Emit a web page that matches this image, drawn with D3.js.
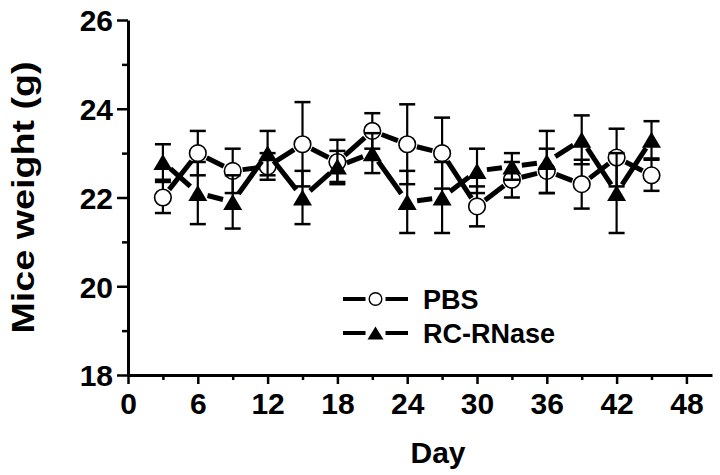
<!DOCTYPE html>
<html>
<head>
<meta charset="utf-8">
<script src="https://cdn.jsdelivr.net/npm/d3@7"></script>
<style>
  html, body { margin: 0; padding: 0; background: #fff; }
  svg { display: block; }
  text { font-family: "Liberation Sans", Arial, Helvetica, sans-serif; font-weight: bold; fill: #000; }
</style>
</head>
<body>
<svg id="chart" width="720" height="475"></svg>
<script>
// ---- data ----
const days = [3, 6, 9, 12, 15, 18, 21, 24, 27, 30, 33, 36, 39, 42, 45];
const pbs = [22.0, 23.0, 22.6, 22.7, 23.2, 22.8, 23.5, 23.2, 23.0, 21.8, 22.4, 22.6, 22.3, 22.9, 22.5];
const pbsErr = [0.35, 0.5, 0.5, 0.3, 0.95, 0.5, 0.4, 0.9, 0.8, 0.45, 0.4, 0.5, 0.55, 0.65, 0.35];
const rc = [22.8, 22.1, 21.9, 23.0, 22.0, 22.7, 23.0, 21.9, 22.0, 22.6, 22.7, 22.8, 23.3, 22.1, 23.3];
const rcErr = [0.4, 0.7, 0.6, 0.5, 0.6, 0.35, 0.45, 0.7, 0.8, 0.5, 0.3, 0.7, 0.55, 0.9, 0.42];
const xTicks = [0, 6, 12, 18, 24, 30, 36, 42, 48];
const xMinor = [3, 9, 15, 21, 27, 33, 39, 45];
const yTicks = [18, 20, 22, 24, 26];
const yMinor = [19, 21, 23, 25];
const seriesNames = ["PBS", "RC-RNase"];
const xTitle = "Day";
const yTitle = "Mice weight (g)";

// ---- layout ----
const svg = d3.select("#chart");
const x = d3.scaleLinear().domain([0, 50.2]).range([128, 712]);
const y = d3.scaleLinear().domain([18, 26]).range([375, 20]);

const FS = 30;

// axes
const gx = svg.append("g").attr("transform", `translate(0,${y(18)})`)
  .call(d3.axisBottom(x).tickValues(xTicks).tickSize(9).tickSizeOuter(0).tickPadding(9));
const gxm = svg.append("g").attr("transform", `translate(0,${y(18)})`)
  .call(d3.axisBottom(x).tickValues(xMinor).tickSize(5).tickFormat(""));
gxm.select(".domain").remove();

const gy = svg.append("g").attr("transform", `translate(${x(0)},0)`)
  .call(d3.axisLeft(y).tickValues(yTicks).tickSize(11).tickSizeOuter(0).tickPadding(4));
const gym = svg.append("g").attr("transform", `translate(${x(0)},0)`)
  .call(d3.axisLeft(y).tickValues(yMinor).tickSize(6).tickFormat(""));
gym.select(".domain").remove();

svg.selectAll(".domain").attr("stroke", "#000").attr("stroke-width", 3);
svg.selectAll(".tick line").attr("stroke", "#000").attr("stroke-width", 2.5);
svg.selectAll(".tick text")
  .style("font-family", '"Liberation Sans", Arial, sans-serif')
  .style("font-weight", "bold").attr("font-size", FS).attr("fill", "#000");
gy.selectAll(".tick text").attr("dy", "0.36em");

// axis titles
svg.append("text").attr("x", (x(0) + x(50.2)) / 2 + 18).attr("y", 463)
  .attr("text-anchor", "middle").attr("font-size", FS).text(xTitle);
svg.append("text").attr("transform", `translate(34,${(y(18) + y(26)) / 2}) rotate(-90)`)
  .attr("text-anchor", "middle").attr("font-size", 32)
  .attr("textLength", 272).attr("lengthAdjust", "spacingAndGlyphs").text(yTitle);

// ---- series drawing ----
const plot = svg.append("g");
const GAP = 10;

function drawLine(vals) {
  const pts = days.map((d, i) => [x(d), y(vals[i])]);
  const segs = [];
  for (let i = 0; i < pts.length - 1; i++) {
    const [x1, y1] = pts[i], [x2, y2] = pts[i + 1];
    const L = Math.hypot(x2 - x1, y2 - y1);
    if (L <= 2 * GAP) continue;
    const ux = (x2 - x1) / L, uy = (y2 - y1) / L;
    segs.push([x1 + ux * GAP, y1 + uy * GAP, x2 - ux * GAP, y2 - uy * GAP]);
  }
  plot.append("g").selectAll("line").data(segs).join("line")
    .attr("x1", s => s[0]).attr("y1", s => s[1]).attr("x2", s => s[2]).attr("y2", s => s[3])
    .attr("stroke", "#000").attr("stroke-width", 5);
}

function drawErr(vals, errs) {
  const g = plot.append("g").attr("stroke", "#000").attr("stroke-width", 2.2);
  days.forEach((d, i) => {
    const cx = x(d), top = y(vals[i] + errs[i]), bot = y(vals[i] - errs[i]);
    g.append("line").attr("x1", cx).attr("x2", cx).attr("y1", top).attr("y2", bot);
    g.append("line").attr("x1", cx - 8).attr("x2", cx + 8).attr("y1", top).attr("y2", top).attr("stroke-width", 2.5);
    g.append("line").attr("x1", cx - 8).attr("x2", cx + 8).attr("y1", bot).attr("y2", bot).attr("stroke-width", 2.5);
  });
}

function triPath(cx, cy, w, h) {
  return `M${cx},${cy - h / 2}L${cx + w / 2},${cy + h / 2}L${cx - w / 2},${cy + h / 2}Z`;
}

// PBS
drawLine(pbs);
drawErr(pbs, pbsErr);
plot.append("g").selectAll("circle").data(days).join("circle")
  .attr("cx", d => x(d)).attr("cy", (d, i) => y(pbs[i])).attr("r", 8.3)
  .attr("fill", "#fff").attr("stroke", "#000").attr("stroke-width", 1.6);

// RC-RNase
drawLine(rc);
drawErr(rc, rcErr);
plot.append("g").selectAll("path").data(days).join("path")
  .attr("d", (d, i) => triPath(x(d), y(rc[i]), 19, 16)).attr("fill", "#000");

// ---- legend ----
const leg = svg.append("g");
const lx0 = 343, lx1 = 408, lcx = (lx0 + lx1) / 2;
[299, 333].forEach((ly, k) => {
  leg.append("line").attr("x1", lx0).attr("x2", lcx - 10).attr("y1", ly).attr("y2", ly)
    .attr("stroke", "#000").attr("stroke-width", 4);
  leg.append("line").attr("x1", lcx + 10).attr("x2", lx1).attr("y1", ly).attr("y2", ly)
    .attr("stroke", "#000").attr("stroke-width", 4);
  if (k === 0) {
    leg.append("circle").attr("cx", lcx).attr("cy", ly).attr("r", 6.3)
      .attr("fill", "#fff").attr("stroke", "#000").attr("stroke-width", 1.4);
  } else {
    leg.append("path").attr("d", triPath(lcx, ly, 16, 13)).attr("fill", "#000");
  }
  leg.append("text").attr("x", 423).attr("y", ly).attr("dy", "0.36em")
    .attr("font-size", 27).text(seriesNames[k]);
});
</script>
</body>
</html>
